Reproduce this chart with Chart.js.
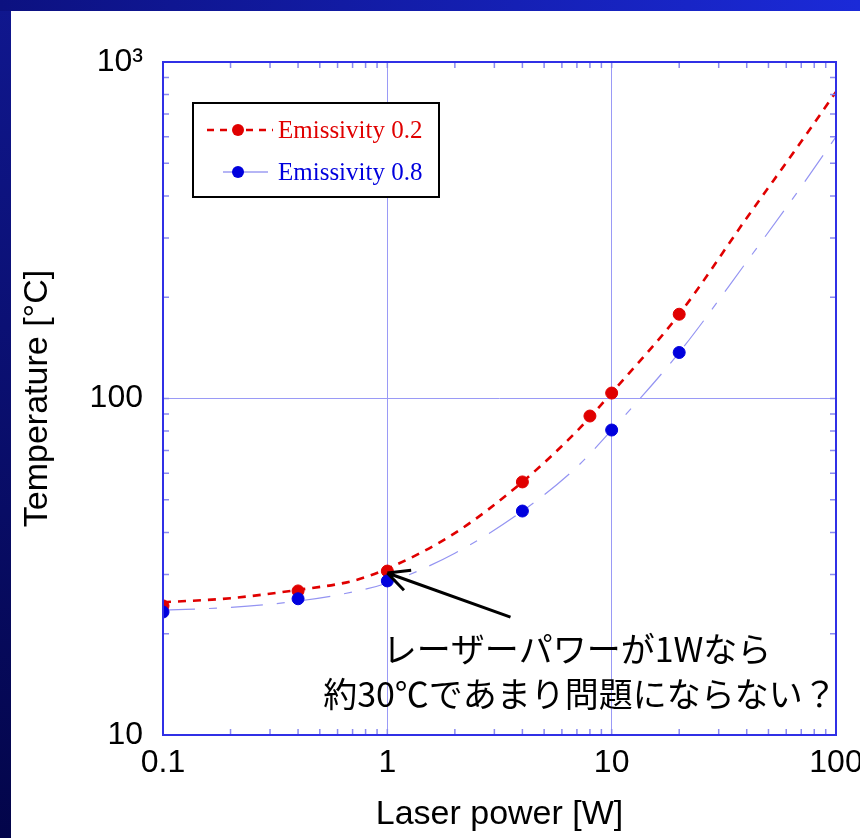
<!DOCTYPE html>
<html>
<head>
<meta charset="utf-8">
<script src="https://cdn.jsdelivr.net/npm/chart.js@4.4.0/dist/chart.umd.min.js"></script>
<style>
  html, body { margin: 0; padding: 0; }
  body { width: 860px; height: 838px; position: relative; overflow: hidden; background: linear-gradient(to bottom, #10178f, #03054a); }
  #topband { position: absolute; left: 0; top: 0; width: 860px; height: 11px; background: linear-gradient(to right, #0c1180, #1b2ad8); }
  #panel { position: absolute; left: 11px; top: 11px; width: 849px; height: 827px; background: #fff; }
  #wrap { position: absolute; left: 0; top: 0; width: 860px; height: 838px; }
</style>
</head>
<body>
<div id="topband"></div>
<div id="panel"></div>
<div id="wrap"><canvas id="chart" width="860" height="838"></canvas></div>
<script>
// model curves
const curvePower = [0.1, 0.2, 0.4, 0.7, 1, 2, 4, 7, 10, 20, 40, 70, 100];
const curveTemp02 = [24.8, 25.5, 27.0, 28.7, 31.2, 39.8, 56.5, 80, 104, 178, 344, 580, 815];
const curveTemp08 = [23.5, 23.95, 25.0, 26.6, 28.3, 34.7, 46.3, 62.6, 80.6, 137, 255, 426, 600];

// measured points
const pointPower02 = [0.1, 0.4, 1, 4, 8, 10, 20];
const pointTemp02 = [24.2, 26.8, 30.7, 56.5, 88.7, 103.8, 178];
const pointPower08 = [0.1, 0.4, 1, 4, 10, 20];
const pointTemp08 = [23.2, 25.4, 28.7, 46.3, 80.6, 137];

// tick labels
const xDecades = [0.1, 1, 10, 100];
const xDecadeLabels = ['0.1', '1', '10', '100'];
const yDecades = [10, 100, 1000];
const yDecadeLabels = ['10', '100', '10\u00B3'];

const legendLabels = ['Emissivity 0.2', 'Emissivity 0.8'];
const noteLines = ['レーザーパワーが1Wなら', '約30℃であまり問題にならない？'];

const RED = '#e00000';
const BLUE = '#0000dd';
const LIGHTBLUE = '#9494f2';
const GRID = '#9a9af6';

function toXY(xs, ys) {
  return xs.map((v, i) => ({ x: v, y: ys[i] }));
}

// 1..9 x decade ticks, decades flagged major
function logTicks(decades) {
  const ticks = [];
  decades.forEach((d, i) => {
    ticks.push({ value: d, major: true });
    if (i < decades.length - 1) {
      for (let m = 2; m <= 9; m++) ticks.push({ value: d * m, major: false });
    }
  });
  return ticks;
}

const framePlugin = {
  id: 'frame',
  afterDatasetsDraw(chart) {
    const { ctx, chartArea: a, scales: { x, y } } = chart;
    ctx.save();

    // inward minor ticks on all four sides
    ctx.strokeStyle = '#8a8af0';
    ctx.lineWidth = 1.5;
    ctx.beginPath();
    x.ticks.forEach(t => {
      const px = x.getPixelForValue(t.value);
      ctx.moveTo(px, a.bottom); ctx.lineTo(px, a.bottom - 6);
      ctx.moveTo(px, a.top); ctx.lineTo(px, a.top + 6);
    });
    y.ticks.forEach(t => {
      const py = y.getPixelForValue(t.value);
      ctx.moveTo(a.left, py); ctx.lineTo(a.left + 6, py);
      ctx.moveTo(a.right, py); ctx.lineTo(a.right - 6, py);
    });
    ctx.stroke();

    // plot frame
    ctx.strokeStyle = '#3030e6';
    ctx.lineWidth = 2;
    ctx.strokeRect(a.left, a.top, a.right - a.left, a.bottom - a.top);

    // legend box
    const lx = a.left + 30, ly = a.top + 41;
    ctx.fillStyle = '#fff';
    ctx.fillRect(lx, ly, 246, 94);
    ctx.strokeStyle = '#000';
    ctx.lineWidth = 2;
    ctx.strokeRect(lx, ly, 246, 94);

    const rows = [
      { y: ly + 27, color: RED, line: RED, width: 2.5, dash: [7, 6], x0: lx + 14, x1: lx + 80 },
      { y: ly + 69, color: BLUE, line: '#6c6cec', width: 1.2, dash: [], x0: lx + 30, x1: lx + 75 }
    ];
    ctx.font = '25px "Liberation Serif", "Times New Roman", serif';
    ctx.textBaseline = 'middle';
    ctx.textAlign = 'left';
    rows.forEach((r, i) => {
      ctx.strokeStyle = r.line;
      ctx.lineWidth = r.width;
      ctx.setLineDash(r.dash);
      ctx.beginPath();
      ctx.moveTo(r.x0, r.y); ctx.lineTo(r.x1, r.y);
      ctx.stroke();
      ctx.setLineDash([]);
      ctx.fillStyle = r.color;
      ctx.beginPath();
      ctx.arc(lx + 45, r.y, 6, 0, Math.PI * 2);
      ctx.fill();
      ctx.fillText(legendLabels[i], lx + 85, r.y + 1);
    });

    // annotation arrow pointing at the 1 W point
    const tipX = x.getPixelForValue(1), tipY = y.getPixelForValue(30.3);
    const tailX = x.getPixelForValue(3.54), tailY = y.getPixelForValue(22.4);
    const ang = Math.atan2(tailY - tipY, tailX - tipX);
    ctx.strokeStyle = '#000';
    ctx.lineWidth = 3;
    ctx.beginPath();
    ctx.moveTo(tailX, tailY); ctx.lineTo(tipX, tipY);
    [-0.46, 0.46].forEach(d => {
      ctx.moveTo(tipX, tipY);
      ctx.lineTo(tipX + 24 * Math.cos(ang + d), tipY + 24 * Math.sin(ang + d));
    });
    ctx.stroke();

    ctx.fillStyle = '#000';
    ctx.font = '34px "Noto Sans CJK JP", sans-serif';
    ctx.textAlign = 'center';
    ctx.fillText(noteLines[0], a.left + 414, a.top + 587);
    ctx.fillText(noteLines[1], a.left + 417, a.top + 632);

    ctx.restore();
  }
};

new Chart(document.getElementById('chart'), {
  type: 'line',
  data: {
    datasets: [
      {
        label: legendLabels[1],
        data: toXY(pointPower08, pointTemp08),
        order: 0,
        showLine: false,
        pointRadius: 6,
        pointBackgroundColor: BLUE,
        pointBorderColor: BLUE,
        pointBorderWidth: 1
      },
      {
        label: legendLabels[0],
        data: toXY(pointPower02, pointTemp02),
        order: 1,
        showLine: false,
        pointRadius: 6,
        pointBackgroundColor: RED,
        pointBorderColor: RED,
        pointBorderWidth: 1
      },
      {
        label: legendLabels[0] + ' curve',
        data: toXY(curvePower, curveTemp02),
        order: 2,
        borderColor: RED,
        borderWidth: 2.6,
        borderDash: [8, 7],
        pointRadius: 0,
        cubicInterpolationMode: 'monotone'
      },
      {
        label: legendLabels[1] + ' curve',
        data: toXY(curvePower, curveTemp08),
        order: 3,
        borderColor: LIGHTBLUE,
        borderWidth: 1.2,
        borderDash: [32, 14, 8, 14],
        pointRadius: 0,
        cubicInterpolationMode: 'monotone'
      }
    ]
  },
  options: {
    responsive: false,
    animation: false,
    devicePixelRatio: 1,
    layout: { padding: { top: 62, right: 24, left: 0, bottom: 0 } },
    plugins: {
      legend: { display: false },
      tooltip: { enabled: false }
    },
    scales: {
      x: {
        type: 'logarithmic',
        min: 0.1,
        max: 100,
        afterBuildTicks: s => { s.ticks = logTicks(xDecades); },
        afterFit: s => { s.height = 103; s.paddingRight = 0; s.paddingLeft = 0; },
        grid: {
          drawTicks: false,
          color: c => (c.tick && c.tick.major) ? GRID : 'rgba(0,0,0,0)',
          lineWidth: 1
        },
        border: { display: false },
        ticks: {
          autoSkip: false,
          maxRotation: 0,
          padding: 9,
          color: '#000',
          font: { family: '"Liberation Sans", Arial, sans-serif', size: 32 },
          callback: v => {
            const i = xDecades.findIndex(d => Math.abs(d - v) < d * 1e-6);
            return i >= 0 ? xDecadeLabels[i] : '';
          }
        },
        title: {
          display: true,
          text: 'Laser power [W]',
          color: '#000',
          font: { family: '"Liberation Sans", Arial, sans-serif', size: 34 },
          padding: { top: 0, bottom: 3 }
        }
      },
      y: {
        type: 'logarithmic',
        min: 10,
        max: 1000,
        afterBuildTicks: s => { s.ticks = logTicks(yDecades); },
        afterFit: s => { s.width = 163; s.paddingTop = 0; s.paddingBottom = 0; },
        grid: {
          drawTicks: false,
          color: c => (c.tick && c.tick.major) ? GRID : 'rgba(0,0,0,0)',
          lineWidth: 1
        },
        border: { display: false },
        ticks: {
          autoSkip: false,
          padding: 20,
          color: '#000',
          font: { family: '"Liberation Sans", Arial, sans-serif', size: 32 },
          callback: v => {
            const i = yDecades.findIndex(d => Math.abs(d - v) < d * 1e-6);
            return i >= 0 ? yDecadeLabels[i] : '';
          }
        },
        title: {
          display: true,
          text: 'Temperature [\u00B0C]',
          color: '#000',
          font: { family: '"Liberation Sans", Arial, sans-serif', size: 34 },
          padding: { top: 17, bottom: 0 }
        }
      }
    }
  },
  plugins: [framePlugin]
});
</script>
</body>
</html>
